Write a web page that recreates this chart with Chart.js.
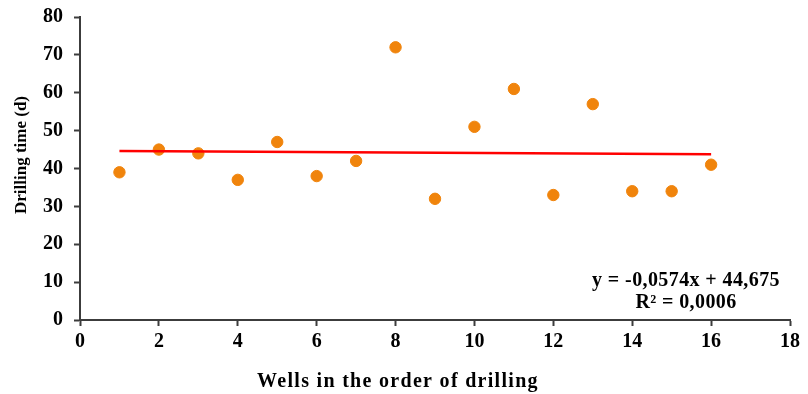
<!DOCTYPE html>
<html>
<head>
<meta charset="utf-8">
<script src="https://cdn.jsdelivr.net/npm/chart.js@4.4.1/dist/chart.umd.min.js"></script>
<style>
  html, body { margin: 0; padding: 0; background: #fff; }
  #wrap { width: 808px; height: 394px; }
</style>
</head>
<body>
<div id="wrap"><canvas id="c" width="808" height="394"></canvas></div>
<script>
// Well number (order of drilling) and drilling time in days
const wells = [1, 2, 3, 4, 5, 6, 7, 8, 9, 10, 11, 12, 13, 14, 15, 16];
const drillingDays = [39, 45, 44, 37, 47, 38, 42, 72, 32, 51, 61, 33, 57, 34, 34, 41];

// Linear trendline coefficients
const slope = -0.0574;
const intercept = 44.675;
const rSquared = 0.0006;

const xTicks = [0, 2, 4, 6, 8, 10, 12, 14, 16, 18];
const yTicks = [0, 10, 20, 30, 40, 50, 60, 70, 80];

const xTitle = 'Wells in the order of drilling';
const yTitle = 'Drilling time (d)';

const fmt = (v, d) => v.toFixed(d).replace('.', ',');
const eqLine1 = 'y = ' + fmt(slope, 4) + 'x + ' + fmt(intercept, 3);
const eqLine2 = 'R\u00B2 = ' + fmt(rSquared, 4);

const points = wells.map((w, i) => ({ x: w, y: drillingDays[i] }));
const xFirst = wells[0], xLast = wells[wells.length - 1];
const trend = [
  { x: xFirst, y: slope * xFirst + intercept },
  { x: xLast, y: slope * xLast + intercept }
];

const serif = "'Liberation Serif', 'Times New Roman', serif";
const axisColor = '#3c3c3c';

// Axis titles and the trendline equation, drawn on the canvas
const annotations = {
  id: 'annotations',
  afterDraw(chart) {
    const { ctx, chartArea } = chart;
    ctx.save();
    ctx.fillStyle = '#000';
    ctx.textAlign = 'center';
    ctx.textBaseline = 'middle';

    // trendline equation
    ctx.font = 'bold 20px ' + serif;
    ctx.letterSpacing = '0.4px';
    const cx = chartArea.right - 104;
    ctx.fillText(eqLine1, cx, chartArea.bottom - 39);
    ctx.fillText(eqLine2, cx, chartArea.bottom - 17);

    // x axis title
    ctx.font = 'bold 20px ' + serif;
    ctx.letterSpacing = '1.3px';
    ctx.fillText(xTitle, chartArea.left + 318, chartArea.bottom + 62);

    // y axis title
    ctx.font = 'bold 17px ' + serif;
    ctx.letterSpacing = '0px';
    ctx.translate(22, chartArea.top + 138);
    ctx.rotate(-Math.PI / 2);
    ctx.fillText(yTitle, 0, 0);
    ctx.restore();
  }
};

new Chart(document.getElementById('c'), {
  type: 'scatter',
  data: {
    datasets: [
      {
        label: 'Trend',
        type: 'line',
        data: trend,
        borderColor: '#ff0000',
        borderWidth: 2.5,
        pointRadius: 0,
        fill: false,
        order: 0
      },
      {
        label: 'Drilling time',
        data: points,
        backgroundColor: '#f0840c',
        borderColor: '#f0840c',
        pointRadius: 5.7,
        pointHoverRadius: 5.7,
        order: 1
      }
    ]
  },
  options: {
    responsive: false,
    animation: false,
    layout: { padding: { left: 0, right: 18, top: 17, bottom: 0 } },
    plugins: { legend: { display: false }, tooltip: { enabled: false } },
    scales: {
      x: {
        type: 'linear',
        min: 0, max: 18,
        afterBuildTicks: s => { s.ticks = xTicks.map(v => ({ value: v })); },
        afterFit: s => { s.height = 74; s.paddingLeft = 0; s.paddingRight = 0; },
        grid: { drawOnChartArea: false, drawTicks: true, tickLength: 6, tickColor: axisColor, tickWidth: 2 },
        border: { color: axisColor, width: 2 },
        ticks: { color: '#000', font: { family: serif, size: 20, weight: 'bold' }, padding: 4, maxRotation: 0 }
      },
      y: {
        type: 'linear',
        min: 0, max: 80,
        afterBuildTicks: s => { s.ticks = yTicks.map(v => ({ value: v })); },
        afterFit: s => { s.width = 80; s.paddingTop = 0; s.paddingBottom = 0; },
        grid: { drawOnChartArea: false, drawTicks: true, tickLength: 6, tickColor: axisColor, tickWidth: 2 },
        border: { color: axisColor, width: 2 },
        ticks: { color: '#000', font: { family: serif, size: 20, weight: 'bold' }, padding: 11 }
      }
    }
  },
  plugins: [annotations]
});
</script>
</body>
</html>
